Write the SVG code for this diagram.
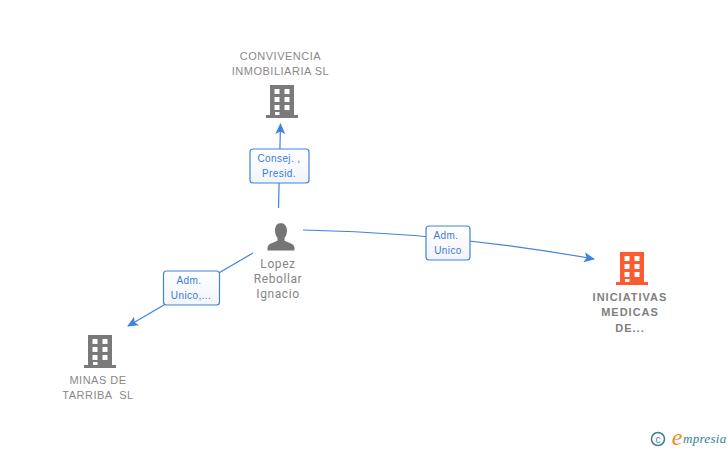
<svg xmlns="http://www.w3.org/2000/svg" width="728" height="450" viewBox="0 0 728 450">
<defs>
<linearGradient id="lb" x1="0" y1="0" x2="0" y2="1"><stop offset="0" stop-color="#ffffff"/><stop offset="1" stop-color="#f1f4f9"/></linearGradient>
<marker id="arr" markerUnits="userSpaceOnUse" markerWidth="12" markerHeight="12" refX="10" refY="5" orient="auto"><path d="M0 0L11 5L0 10L2.500 5Z" fill="#3f83dc"/></marker>
<g id="bld"><path fill-rule="evenodd" d="M3 0H27V30H31V33H-1V30H3ZM7.500 4V9H12.500V4ZM17.500 4V9H22.500V4ZM7.500 12V17H12.500V12ZM17.500 12V17H22.500V12ZM7.500 20V25H12.500V20ZM17.500 20V25H22.500V20ZM8 27V30H12.500V27Z"/></g>
</defs>
<style>
text{font-family:"Liberation Sans",Arial,sans-serif}
.n{font-size:11px;fill:#888888;text-anchor:middle;letter-spacing:.5px}
.nb{font-size:11px;font-weight:bold;fill:#808080;text-anchor:middle;letter-spacing:1px}
.p{font-family:Roboto,"Liberation Sans",sans-serif;font-size:12px;fill:#858585;text-anchor:middle;letter-spacing:.6px}
.l{font-family:"Liberation Sans",sans-serif;font-size:10px;fill:#3a7bd8;text-anchor:middle;letter-spacing:.4px}
.b{fill:url(#lb);stroke:#3f83dc;stroke-width:1.200}
.c{fill:none;stroke:#3f83dc;stroke-width:1.200}
</style>
<g id="connectors">
<path class="c" d="M278.500 208L280.500 124" marker-end="url(#arr)"/>
<path class="c" d="M253 253L128 326" marker-end="url(#arr)"/>
<path class="c" d="M303 230Q450 233 594 259" marker-end="url(#arr)"/>
</g>
<g id="label1"><rect class="b" x="250" y="149" width="59" height="34" rx="3"/><text class="l" x="279" y="162">Consej. ,</text><text class="l" x="279" y="177">Presid.</text></g>
<g id="label2"><rect class="b" x="163.500" y="271" width="56" height="34" rx="3"/><text class="l" x="189" y="284">Adm.</text><text class="l" x="191" y="299">Unico,...</text></g>
<g id="label3"><rect class="b" x="426" y="226" width="44" height="34" rx="3"/><text class="l" x="446" y="239">Adm.</text><text class="l" x="448" y="254">Unico</text></g>
<g id="node-convivencia"><text class="n" x="280.500" y="60">CONVIVENCIA</text><text class="n" x="280.500" y="75">INMOBILIARIA SL</text><use href="#bld" x="267" y="85" fill="#7a7a7a"/></g>
<g id="node-iniciativas"><use href="#bld" x="617" y="252" fill="#fc5a30"/><text class="nb" x="630" y="301">INICIATIVAS</text><text class="nb" x="630" y="316">MEDICAS</text><text class="nb" x="630" y="332">DE...</text></g>
<g id="node-minas"><use href="#bld" x="85" y="335" fill="#7a7a7a"/><text class="n" x="98" y="384">MINAS DE</text><text class="n" x="98" y="399" xml:space="preserve">TARRIBA  SL</text></g>
<g id="node-lopez"><path fill="#757575" d="M280.500 223c3.800 0 6.500 3 6.500 7.500 0 3-1 5.500-2.500 7.500v2.500c1 1.500 8 2.500 9.500 5.500 .5 1.200 .5 3.500 .5 4.500h-27c0-1 0-3.300 .5-4.500 1.500-3 8.500-4 9.500-5.500V238c-1.500-2-2.500-4.500-2.500-7.500 0-4.500 2.200-7.500 6-7.500z"/><text class="p" x="278" y="268">Lopez</text><text class="p" x="278" y="283">Rebollar</text><text class="p" x="278" y="298">Ignacio</text></g>
<g id="logo"><circle cx="658" cy="439" r="6.500" fill="none" stroke="#3d7f94" stroke-width="1.500"/><text x="658" y="442.500" font-size="10" fill="#3d7f94" text-anchor="middle">c</text><text x="677" y="445" font-size="24" font-style="italic" fill="#f08a1d" text-anchor="middle" style="font-family:'Liberation Serif',serif">e</text><text x="683" y="443" font-size="13" font-style="italic" fill="#2f7f95" style="font-family:'Liberation Serif',serif" letter-spacing=".3">mpresia</text></g>
</svg>
